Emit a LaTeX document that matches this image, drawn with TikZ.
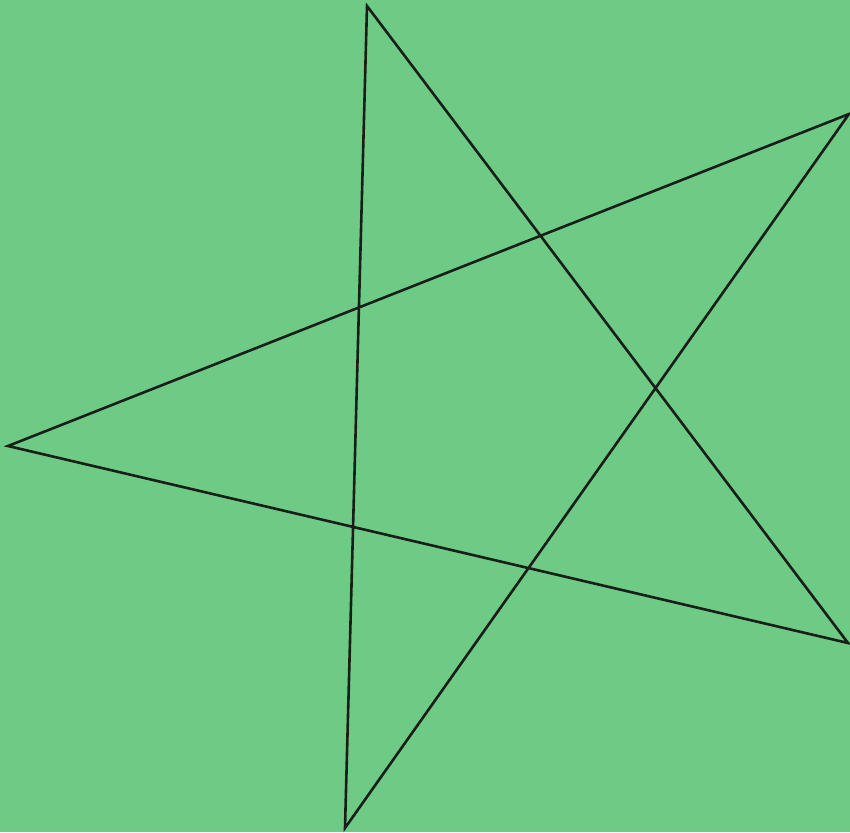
\documentclass[tikz,border=0pt]{standalone}
\definecolor{bg}{RGB}{110,203,134}
\definecolor{ink}{RGB}{25,30,25}
\tikzset{starline/.style={draw=ink,line width=2.6pt,line join=miter,line cap=round}}
\begin{document}
\begin{tikzpicture}[x=1pt,y=-1pt]
\fill[bg] (0,0) rectangle (850,832);
\useasboundingbox (0,0) rectangle (850,832);
\coordinate (top) at (367,6);
\coordinate (rt) at (849,114);
\coordinate (lf) at (8,446);
\coordinate (rb) at (848,643);
\coordinate (bt) at (345,828);
\draw[starline] (top) -- (bt) -- (rt) -- (lf) -- (rb) -- cycle;
\end{tikzpicture}
\end{document}
